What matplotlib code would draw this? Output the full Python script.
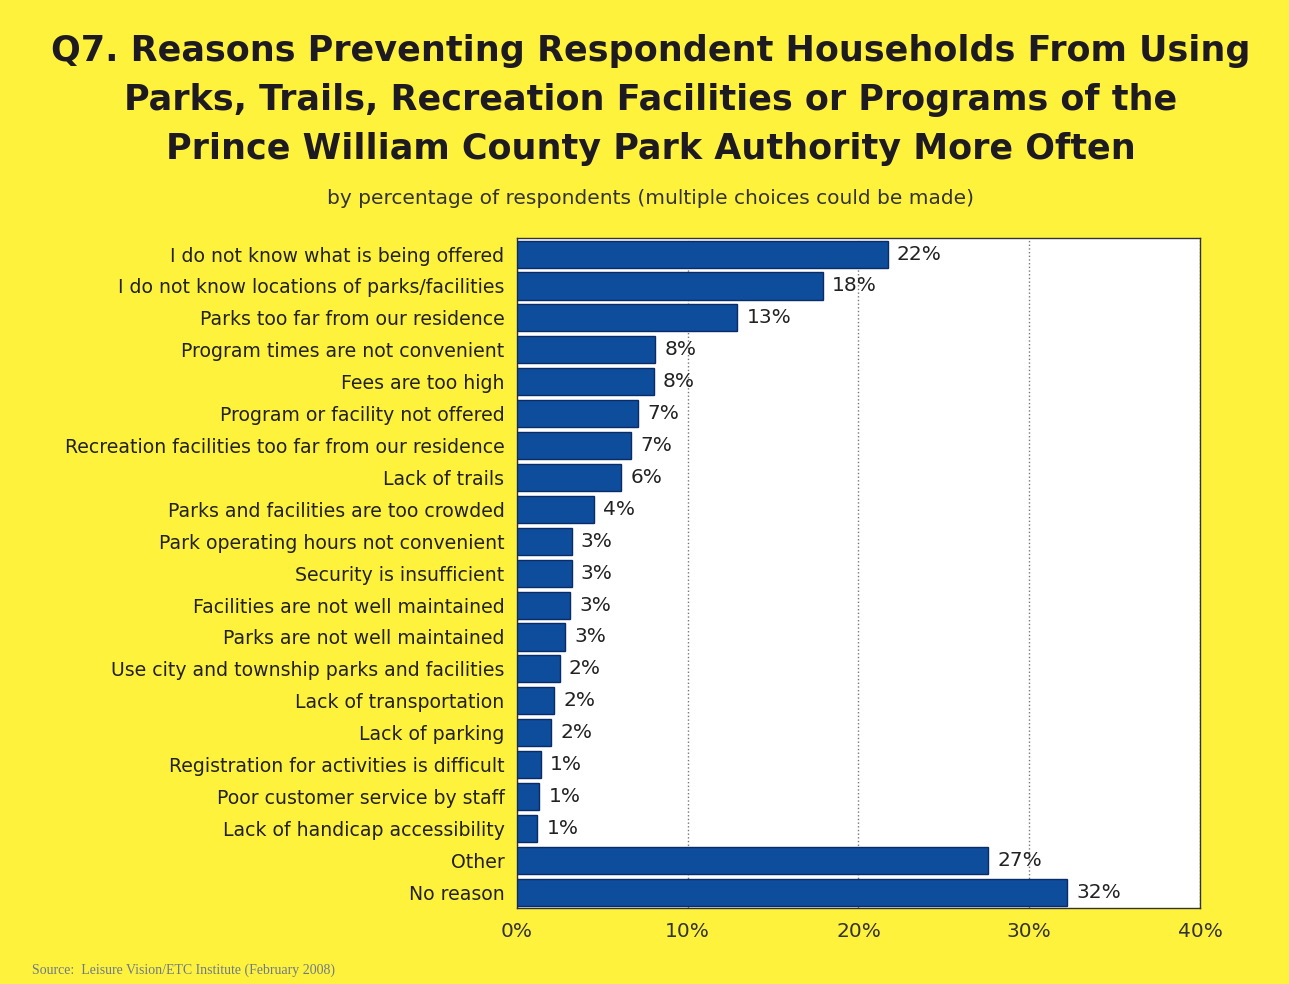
import matplotlib.pyplot as plt
import numpy as np

# reasons, top to bottom
reasons = [
    "I do not know what is being offered",
    "I do not know locations of parks/facilities",
    "Parks too far from our residence",
    "Program times are not convenient",
    "Fees are too high",
    "Program or facility not offered",
    "Recreation facilities too far from our residence",
    "Lack of trails",
    "Parks and facilities are too crowded",
    "Park operating hours not convenient",
    "Security is insufficient",
    "Facilities are not well maintained",
    "Parks are not well maintained",
    "Use city and township parks and facilities",
    "Lack of transportation",
    "Lack of parking",
    "Registration for activities is difficult",
    "Poor customer service by staff",
    "Lack of handicap accessibility",
    "Other",
    "No reason",
]
values = [21.7, 17.9, 12.9, 8.1, 8.0, 7.1, 6.7, 6.1, 4.5, 3.2, 3.2, 3.1, 2.8,
          2.5, 2.2, 2.0, 1.4, 1.3, 1.2, 27.6, 32.2]
labels = ["22%", "18%", "13%", "8%", "8%", "7%", "7%", "6%", "4%", "3%", "3%",
          "3%", "3%", "2%", "2%", "2%", "1%", "1%", "1%", "27%", "32%"]

plt.rcParams['font.family'] = ['DejaVu Sans']
yellow = '#fff23c'
fig = plt.figure(figsize=(12.89, 9.84), dpi=100, facecolor=yellow)
ax = fig.add_axes([0.401, 0.077, 0.530, 0.681])
ax.set_facecolor('white')

y = np.arange(len(reasons))
ax.barh(y, values, height=0.85, color='#0e4c9c', edgecolor='#0a2c66', linewidth=1.0, zorder=3)
for yi, v, lab in zip(y, values, labels):
    ax.text(v + 0.55, yi, lab, va='center', ha='left', fontsize=14.5, color='#222222', zorder=4)

ax.set_xlim(0, 40)
ax.set_ylim(len(reasons) - 0.5, -0.5)
ax.set_xticks([0, 10, 20, 30, 40])
ax.set_xticklabels(["0%", "10%", "20%", "30%", "40%"], fontsize=14.5, color='#333333')
ax.set_yticks(y)
ax.set_yticklabels(reasons, fontsize=13.6, color='#222222')
ax.tick_params(length=0, pad=10)
ax.tick_params(axis='y', pad=9)
ax.grid(axis='x', linestyle=':', color='#777777', linewidth=1.0, zorder=1)
for s in ax.spines.values():
    s.set_color('#333333')
    s.set_linewidth(1.0)

title_color = '#1e1a22'
fig.text(0.505, 0.948, "Q7. Reasons Preventing Respondent Households From Using",
         ha='center', va='center', fontsize=25.2, fontweight='bold', color=title_color)
fig.text(0.505, 0.898, "Parks, Trails, Recreation Facilities or Programs of the",
         ha='center', va='center', fontsize=25.2, fontweight='bold', color=title_color)
fig.text(0.505, 0.849, "Prince William County Park Authority More Often",
         ha='center', va='center', fontsize=25.2, fontweight='bold', color=title_color)
fig.text(0.505, 0.798, "by percentage of respondents (multiple choices could be made)",
         ha='center', va='center', fontsize=14.5, color='#333333')
fig.text(0.025, 0.014, "Source:  Leisure Vision/ETC Institute (February 2008)",
         ha='left', va='center', fontsize=10, color='#6d7a8a', family='Liberation Serif')

plt.savefig('out.png', dpi=100, facecolor=yellow)
